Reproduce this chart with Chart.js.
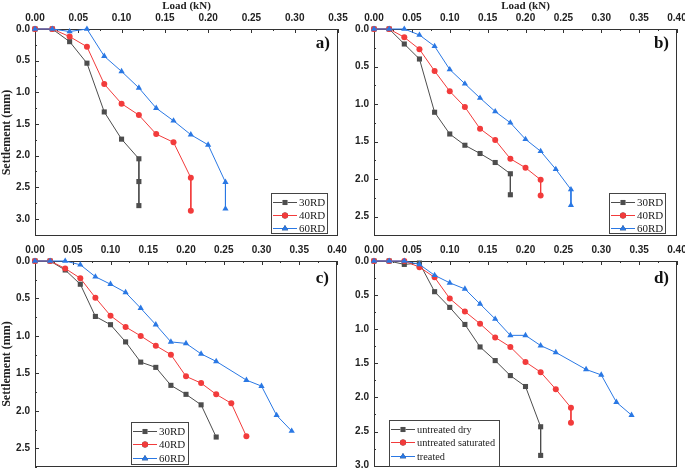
<!DOCTYPE html>
<html lang="en">
<head>
    <meta charset="UTF-8" />
    <title>Load - Settlement</title>
    <script src="https://cdn.jsdelivr.net/npm/chart.js"></script>
    <style>
        * { box-sizing: border-box; margin: 0; padding: 0; }
        body { background: #fff; width: 685px; height: 471px; overflow: hidden; position: relative; }
        canvas { position: absolute; }
    </style>
</head>
<body>
    <canvas id="chartA" width="350" height="240" style="left:0;top:0"></canvas>
    <canvas id="chartB" width="345" height="240" style="left:340px;top:0"></canvas>
    <canvas id="chartC" width="350" height="236" style="left:0;top:235px"></canvas>
    <canvas id="chartD" width="345" height="236" style="left:340px;top:235px"></canvas>

    <script>
        // ---- data (load kN, settlement mm) ----
        const loadA30 = [0, 0.02, 0.04, 0.06, 0.08, 0.10, 0.12, 0.12, 0.12];
        const settleA30 = [0, 0, 0.20, 0.54, 1.31, 1.74, 2.05, 2.41, 2.79];
        const loadA40 = [0, 0.02, 0.04, 0.06, 0.08, 0.10, 0.12, 0.14, 0.16, 0.18, 0.18];
        const settleA40 = [0, 0, 0.12, 0.28, 0.87, 1.18, 1.36, 1.66, 1.79, 2.35, 2.87];
        const loadA60 = [0, 0.02, 0.04, 0.06, 0.08, 0.10, 0.12, 0.14, 0.16, 0.18, 0.20, 0.22, 0.22];
        const settleA60 = [0, 0, 0.04, 0, 0.43, 0.67, 0.93, 1.25, 1.45, 1.67, 1.83, 2.42, 2.84];

        const loadB30 = [0, 0.02, 0.04, 0.06, 0.08, 0.10, 0.12, 0.14, 0.16, 0.18, 0.18];
        const settleB30 = [0, 0, 0.20, 0.40, 1.11, 1.40, 1.55, 1.66, 1.78, 1.93, 2.21];
        const loadB40 = [0, 0.02, 0.04, 0.06, 0.08, 0.10, 0.12, 0.14, 0.16, 0.18, 0.20, 0.22, 0.22];
        const settleB40 = [0, 0, 0.11, 0.27, 0.56, 0.83, 1.04, 1.33, 1.48, 1.73, 1.85, 2.01, 2.22];
        const loadB60 = [0, 0.02, 0.04, 0.06, 0.08, 0.10, 0.12, 0.14, 0.16, 0.18, 0.20, 0.22, 0.24, 0.26, 0.26];
        const settleB60 = [0, 0, 0, 0.08, 0.23, 0.54, 0.73, 0.92, 1.10, 1.25, 1.47, 1.63, 1.87, 2.14, 2.35];

        const loadC30 = [0, 0.02, 0.04, 0.06, 0.08, 0.10, 0.12, 0.14, 0.16, 0.18, 0.20, 0.22, 0.24];
        const settleC30 = [0, 0, 0.12, 0.31, 0.74, 0.85, 1.08, 1.35, 1.42, 1.66, 1.78, 1.92, 2.35];
        const loadC40 = [0, 0.02, 0.04, 0.06, 0.08, 0.10, 0.12, 0.14, 0.16, 0.18, 0.20, 0.22, 0.24, 0.26, 0.28];
        const settleC40 = [0, 0, 0.10, 0.23, 0.49, 0.73, 0.88, 1.00, 1.13, 1.25, 1.54, 1.63, 1.78, 1.90, 2.34];
        const loadC60 = [0, 0.02, 0.04, 0.06, 0.08, 0.10, 0.12, 0.14, 0.16, 0.18, 0.20, 0.22, 0.24, 0.28, 0.30, 0.32, 0.34];
        const settleC60 = [0, 0, 0, 0.05, 0.21, 0.31, 0.42, 0.63, 0.85, 1.08, 1.10, 1.24, 1.34, 1.59, 1.67, 2.06, 2.27];

        const loadDdry = [0, 0.02, 0.04, 0.06, 0.08, 0.10, 0.12, 0.14, 0.16, 0.18, 0.20, 0.22, 0.22];
        const settleDdry = [0, 0, 0.05, 0.03, 0.45, 0.68, 0.93, 1.26, 1.46, 1.68, 1.84, 2.43, 2.85];
        const loadDsat = [0, 0.02, 0.04, 0.06, 0.08, 0.10, 0.12, 0.14, 0.16, 0.18, 0.20, 0.22, 0.24, 0.26, 0.26];
        const settleDsat = [0, 0, 0, 0.09, 0.24, 0.55, 0.74, 0.92, 1.12, 1.26, 1.48, 1.63, 1.88, 2.15, 2.37];
        const loadDtr = [0, 0.02, 0.04, 0.06, 0.08, 0.10, 0.12, 0.14, 0.16, 0.18, 0.20, 0.22, 0.24, 0.28, 0.30, 0.32, 0.34];
        const settleDtr = [0, 0, 0, 0.05, 0.21, 0.32, 0.41, 0.63, 0.85, 1.09, 1.09, 1.24, 1.34, 1.59, 1.67, 2.07, 2.26];

        const labelsRD = ['30RD', '40RD', '60RD'];
        const labelsD = ['untreated dry', 'untreated saturated', 'treated'];

        const xTicksA = [0, 0.05, 0.10, 0.15, 0.20, 0.25, 0.30, 0.35];
        const xTicks = [0, 0.05, 0.10, 0.15, 0.20, 0.25, 0.30, 0.35, 0.40];
        const yTicks30 = [0, 0.5, 1.0, 1.5, 2.0, 2.5, 3.0];
        const yTicks25 = [0, 0.5, 1.0, 1.5, 2.0, 2.5];

        const GRAY = '#4d4d4d', RED = '#f23b3b', BLUE = '#2a78e4';
        const SERIF = "'Liberation Serif', 'Times New Roman', serif";
        const SANS = "'Liberation Sans', Arial, sans-serif";

        function series(label, xs, ys, color, style, radius, order) {
            return {
                label: label,
                data: xs.map((x, i) => ({ x: x, y: ys[i] })),
                borderColor: color,
                backgroundColor: color,
                borderWidth: 1,
                pointStyle: style,
                pointRadius: radius,
                pointBorderWidth: 0,
                pointBackgroundColor: color,
                tension: 0,
                clip: false,
                order: order
            };
        }

        // frame + inward major/minor ticks, panel letter and legend box
        const framePlugin = {
            id: 'frame',
            beforeDatasetsDraw(chart) {
                const { ctx, chartArea: a } = chart;
                const x = chart.scales.x, y = chart.scales.y;
                ctx.save();
                ctx.strokeStyle = '#333';
                ctx.lineWidth = 1;
                ctx.strokeRect(a.left + 0.5, a.top + 0.5, a.right - a.left - 1, a.bottom - a.top - 1);
                ctx.beginPath();
                for (let i = 0; i * 0.025 <= x.max + 1e-9; i++) {
                    const px = Math.round(x.getPixelForValue(i * 0.025)) + 0.5;
                    const len = i % 2 === 0 ? 4 : 2;
                    ctx.moveTo(px, a.top);
                    ctx.lineTo(px, a.top + len);
                }
                for (let i = 0; i * 0.25 <= y.max + 1e-9; i++) {
                    const py = Math.round(y.getPixelForValue(i * 0.25)) + 0.5;
                    const len = i % 2 === 0 ? 4 : 2;
                    ctx.moveTo(a.left, py);
                    ctx.lineTo(a.left + len, py);
                }
                ctx.stroke();
                ctx.restore();
            },
            afterDraw(chart, args, opts) {
                const ctx = chart.ctx;
                const a = chart.chartArea;
                ctx.save();
                ctx.fillStyle = '#111';
                ctx.font = 'bold 17px ' + SERIF;
                ctx.textAlign = 'right';
                ctx.textBaseline = 'alphabetic';
                ctx.fillText(opts.letter, a.right - 8, a.top + opts.letterDy);

                const b = opts.box;
                ctx.fillStyle = '#fff';
                ctx.fillRect(b.x, b.y, b.w, b.h);
                ctx.strokeStyle = '#444';
                ctx.lineWidth = 1;
                ctx.strokeRect(b.x + 0.5, b.y + 0.5, b.w, b.h);
                ctx.font = opts.fontSize + 'px ' + SERIF;
                ctx.textAlign = 'left';
                ctx.textBaseline = 'middle';
                chart.data.datasets.forEach((ds, i) => {
                    const cy = Math.round(b.y + 8.5 + i * opts.rowGap);
                    const x0 = b.x + 2, x1 = b.x + opts.lineLen;
                    ctx.strokeStyle = ds.borderColor;
                    ctx.beginPath();
                    ctx.moveTo(x0, cy + 0.5);
                    ctx.lineTo(x1, cy + 0.5);
                    ctx.stroke();
                    Chart.helpers.drawPoint(ctx, {
                        pointStyle: ds.pointStyle, radius: ds.pointRadius, borderWidth: 0, rotation: 0
                    }, (x0 + x1) / 2, cy + 0.5);
                    ctx.fillStyle = ds.borderColor;
                    ctx.fill();
                    ctx.fillStyle = '#222';
                    ctx.fillText(ds.label, x1 + 2, cy + 1);
                });
                ctx.restore();
            }
        };

        function makeChart(id, datasets, cfg) {
            new Chart(document.getElementById(id), {
                type: 'line',
                data: { datasets: datasets },
                plugins: [framePlugin],
                options: {
                    responsive: false,
                    animation: false,
                    devicePixelRatio: 1,
                    layout: { padding: cfg.padding },
                    plugins: {
                        legend: { display: false },
                        tooltip: { enabled: false },
                        frame: {
                            letter: cfg.letter, letterDy: cfg.letterDy, box: cfg.box,
                            lineLen: cfg.lineLen, fontSize: cfg.legendFont, rowGap: cfg.rowGap
                        }
                    },
                    scales: {
                        x: {
                            type: 'linear',
                            position: 'top',
                            min: 0,
                            max: cfg.xMax,
                            grid: { display: false, drawTicks: false },
                            border: { display: false },
                            afterBuildTicks: s => { s.ticks = cfg.xTicks.map(v => ({ value: v })); },
                            afterFit: s => {
                                s.height = cfg.xHeight;
                                s.paddingLeft = 0; s.paddingRight = 0;
                            },
                            ticks: {
                                padding: 5,
                                color: '#222',
                                maxRotation: 0,
                                font: { family: SANS, size: 10, weight: 'bold' },
                                callback: v => v.toFixed(2)
                            },
                            title: {
                                display: cfg.xTitle,
                                text: 'Load (kN)',
                                color: '#222',
                                padding: { top: 0, bottom: 0 },
                                font: { family: SERIF, size: 11, weight: 'bold' }
                            }
                        },
                        y: {
                            type: 'linear',
                            reverse: true,
                            min: 0,
                            max: cfg.yMax,
                            grid: { display: false, drawTicks: false },
                            border: { display: false },
                            afterBuildTicks: s => { s.ticks = cfg.yTicks.map(v => ({ value: v })); },
                            afterFit: s => {
                                s.width = cfg.yWidth;
                                s.paddingTop = 0; s.paddingBottom = 0;
                            },
                            ticks: {
                                padding: 5,
                                color: '#222',
                                font: { family: SANS, size: 10, weight: 'bold' },
                                callback: v => v.toFixed(1)
                            },
                            title: {
                                display: cfg.yTitle,
                                text: 'Settlement (mm)',
                                color: '#222',
                                padding: { top: 0, bottom: 0 },
                                font: { family: SERIF, size: 12, weight: 'bold' }
                            }
                        }
                    }
                }
            });
        }

        makeChart('chartA', [
            series(labelsRD[0], loadA30, settleA30, GRAY, 'rect', 3.6, 3),
            series(labelsRD[1], loadA40, settleA40, RED, 'circle', 3, 2),
            series(labelsRD[2], loadA60, settleA60, BLUE, 'triangle', 3.6, 1)
        ], {
            padding: { left: 0, top: 0, right: 12, bottom: 3 },
            xMax: 0.35, yMax: 3.27, xTicks: xTicksA, yTicks: yTicks30,
            xHeight: 29, yWidth: 35, xTitle: true, yTitle: true,
            letter: 'a)', letterDy: 19,
            box: { x: 271, y: 193, w: 56, h: 40 }, lineLen: 26, legendFont: 11, rowGap: 13.3
        });

        makeChart('chartB', [
            series(labelsRD[0], loadB30, settleB30, GRAY, 'rect', 3.6, 3),
            series(labelsRD[1], loadB40, settleB40, RED, 'circle', 3, 2),
            series(labelsRD[2], loadB60, settleB60, BLUE, 'triangle', 3.6, 1)
        ], {
            padding: { left: 0, top: 0, right: 8, bottom: 3 },
            xMax: 0.40, yMax: 2.76, xTicks: xTicks, yTicks: yTicks25,
            xHeight: 29, yWidth: 34, xTitle: true, yTitle: false,
            letter: 'b)', letterDy: 19,
            box: { x: 269, y: 193, w: 56, h: 40 }, lineLen: 26, legendFont: 11, rowGap: 13.3
        });

        makeChart('chartC', [
            series(labelsRD[0], loadC30, settleC30, GRAY, 'rect', 3.6, 3),
            series(labelsRD[1], loadC40, settleC40, RED, 'circle', 3, 2),
            series(labelsRD[2], loadC60, settleC60, BLUE, 'triangle', 3.6, 1)
        ], {
            padding: { left: 0, top: 0, right: 13, bottom: 3 },
            xMax: 0.40, yMax: 2.75, xTicks: xTicks, yTicks: yTicks25,
            xHeight: 26, yWidth: 35, xTitle: false, yTitle: true,
            letter: 'c)', letterDy: 22,
            box: { x: 131, y: 187, w: 57, h: 42 }, lineLen: 26, legendFont: 11, rowGap: 13.6
        });

        makeChart('chartD', [
            series(labelsD[0], loadDdry, settleDdry, GRAY, 'rect', 3.6, 3),
            series(labelsD[1], loadDsat, settleDsat, RED, 'circle', 3, 2),
            series(labelsD[2], loadDtr, settleDtr, BLUE, 'triangle', 3.6, 1)
        ], {
            padding: { left: 0, top: 0, right: 8, bottom: 3 },
            xMax: 0.40, yMax: 3.02, xTicks: xTicks, yTicks: yTicks30,
            xHeight: 26, yWidth: 34, xTitle: false, yTitle: false,
            letter: 'd)', letterDy: 22,
            box: { x: 49, y: 185, w: 110, h: 46 }, lineLen: 26, legendFont: 10.3, rowGap: 13.8
        });
    </script>
</body>
</html>
